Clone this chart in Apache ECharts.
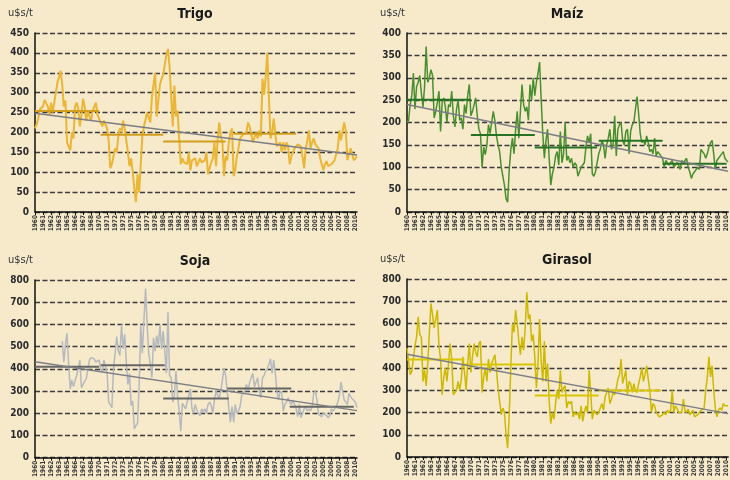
<!DOCTYPE html>
<html lang="es">
<head>
    <meta charset="UTF-8">
    <title>Precios de granos 1960-2010</title>
    <script src="https://cdn.jsdelivr.net/npm/echarts@6/dist/echarts.min.js"></script>
    <style>
        html, body { margin: 0; padding: 0; background: #f6eacb; }
        #chart { width: 730px; height: 480px; }
    </style>
</head>
<body>
<div id="chart"></div>
<script>
    // quarterly values, u$s/t, 1960 Q1 -> 2010 Q2
    const tickYears = [1960,1961,1962,1963,1965,1966,1967,1968,1970,1971,1972,1973,1975,1976,1977,1978,1980,1981,1982,1983,
        1985,1986,1987,1988,1990,1991,1992,1993,1995,1996,1997,1998,2000,2001,2002,2003,2005,2006,2007,2008,2010];

    const trigo = [210,220,235,258,262,265,282,282,265,245,
        275,250,275,270,325,325,355,320,265,280,
        175,165,155,200,185,265,275,260,215,245,
        285,265,230,255,240,230,255,260,275,245,
        235,225,215,230,225,210,180,110,120,140,
        160,150,190,210,200,230,210,180,150,115,
        135,100,60,25,95,50,55,190,215,220,
        250,245,225,290,320,350,240,280,320,335,
        345,370,395,410,365,360,215,318,240,255,
        185,120,135,125,130,120,150,105,130,125,
        135,115,120,135,125,120,130,150,95,100,
        125,135,175,115,180,225,190,175,90,140,
        130,175,200,210,90,105,140,160,185,185,
        195,190,200,225,215,195,175,180,200,185,
        205,190,335,295,340,400,290,185,200,235,
        195,165,165,175,150,175,155,175,165,120,
        140,150,160,165,170,175,165,165,110,160,
        180,205,160,175,185,170,175,160,135,120,
        105,120,128,115,115,120,120,130,125,160,
        205,180,185,225,205,130,130,160,160,130,
        135,140];

    const maiz = [200,205,240,260,310,230,280,290,305,265,
        235,280,370,290,300,318,305,210,225,245,
        270,180,245,255,235,200,240,235,270,215,
        190,230,250,205,210,185,240,220,260,285,
        215,225,240,255,215,185,175,100,145,128,
        150,195,175,200,225,205,170,150,135,100,
        80,60,30,22,95,140,165,130,185,225,
        165,225,285,240,225,235,205,285,250,300,
        260,290,310,335,250,175,120,160,185,120,
        60,85,100,125,135,105,180,110,130,200,
        115,125,110,120,100,110,105,80,90,100,
        100,110,145,170,155,175,85,80,90,110,
        130,140,160,150,120,150,165,185,140,150,
        215,125,185,195,200,160,150,180,185,130,
        180,195,200,230,258,220,175,155,160,150,
        170,155,135,140,130,165,125,135,130,125,
        120,100,115,110,105,110,115,100,105,110,
        105,95,115,110,115,120,100,90,75,85,
        90,95,100,95,140,135,130,120,130,145,
        155,160,130,95,115,120,125,130,135,120,
        115,112];

    const soja = [null,null,null,null,null,null,null,null,null,null,
        null,null,null,null,null,null,null,525,430,510,
        560,420,310,350,320,345,370,400,440,315,
        330,345,355,360,440,450,450,445,430,430,
        440,400,385,440,410,380,250,250,225,400,
        470,545,480,460,600,490,555,430,330,380,
        235,255,130,145,155,320,600,470,620,760,
        600,470,420,360,540,480,550,500,600,490,
        570,480,380,655,370,360,250,280,390,280,
        210,120,245,240,220,250,280,310,220,200,
        240,215,200,190,220,205,220,200,240,250,
        235,200,260,300,280,270,300,350,400,370,
        300,220,160,230,160,240,200,210,230,280,
        290,300,330,300,340,360,380,320,340,360,
        300,270,360,370,390,400,420,445,380,440,
        380,300,260,300,290,210,240,250,270,250,
        240,260,240,220,185,240,180,180,220,230,
        210,220,210,230,290,300,260,195,190,185,
        200,205,190,180,190,220,210,220,230,250,
        280,340,300,260,250,240,290,275,265,260,
        250,225];

    const girasol = [490,430,370,385,380,500,540,630,550,540,
        340,390,320,420,560,690,640,580,620,660,
        500,440,280,360,400,340,420,510,440,280,
        290,300,340,300,350,450,380,300,420,510,
        380,450,510,470,450,510,520,290,360,400,
        340,440,380,420,440,460,390,310,250,190,
        220,200,100,40,190,410,600,560,660,600,
        520,460,540,480,580,740,620,640,520,550,
        450,310,420,620,430,340,520,340,420,250,
        150,200,170,240,300,260,390,290,310,320,
        220,250,240,250,180,200,190,200,170,230,
        160,200,230,200,390,290,170,210,200,190,
        200,220,240,210,270,290,310,240,260,290,
        280,310,350,370,440,330,360,390,280,340,
        330,290,330,300,290,330,360,400,340,370,
        410,350,300,200,240,230,200,190,180,180,
        190,200,190,210,200,210,300,200,230,220,
        200,200,200,260,210,200,215,190,200,210,
        180,175,190,200,210,210,220,300,360,450,
        360,410,300,220,180,210,220,210,240,230,
        225,230];

    // decade averages: value, first quarter, last quarter
    const trigoAvg = [254, 194, 177, 197];
    const trigoAvgFrom = [0, 41, 80, 124];
    const trigoAvgTo = [40, 80, 119, 163];
    const maizAvg = [251, 172, 144, 159, 108];
    const maizAvgFrom = [0, 40, 80, 120, 160];
    const maizAvgTo = [40, 80, 119, 160, 200];
    const sojaAvg = [410, 416, 267, 312, 230];
    const sojaAvgFrom = [0, 41, 80, 120, 159];
    const sojaAvgTo = [40, 81, 121, 160, 199];
    const girasolAvg = [438, 416, 276, 299];
    const girasolAvgFrom = [0, 36, 80, 120];
    const girasolAvgTo = [36, 81, 120, 159];

    // linear trend, start and end value
    const trigoTrend = [248, 143];
    const maizTrend = [240, 91];
    const sojaTrend = [432, 212];
    const girasolTrend = [462, 195];

    const yMax = [450, 400, 800, 800];
    const yStep = [50, 50, 100, 100];

    const nPts = trigo.length;
    const categories = [];
    for (let i = 0; i < nPts; i++) {
        categories.push(i % 5 === 0 && tickYears[i / 5] ? String(tickYears[i / 5]) : '');
    }

    const font = "'Liberation Sans Narrow', 'DejaVu Sans Condensed', sans-serif";
    const panels = [
        { title: 'Trigo', data: trigo, avg: trigoAvg, from: trigoAvgFrom, to: trigoAvgTo, trend: trigoTrend,
          color: '#ebb535', avgColor: '#d29e1c', width: 2 },
        { title: 'Maíz', data: maiz, avg: maizAvg, from: maizAvgFrom, to: maizAvgTo, trend: maizTrend,
          color: '#4a8f2f', avgColor: '#277325', width: 1.5 },
        { title: 'Soja', data: soja, avg: sojaAvg, from: sojaAvgFrom, to: sojaAvgTo, trend: sojaTrend,
          color: '#b5b9bd', avgColor: '#666666', width: 1.5 },
        { title: 'Girasol', data: girasol, avg: girasolAvg, from: girasolAvgFrom, to: girasolAvgTo, trend: girasolTrend,
          color: '#cdb900', avgColor: '#d9c500', width: 1.5 }
    ];

    const grids = [
        { left: 35, top: 33, width: 322, height: 179 },
        { left: 407, top: 33, width: 322, height: 179 },
        { left: 35, top: 280, width: 322, height: 178 },
        { left: 407, top: 279, width: 322, height: 178 }
    ];

    const everyFifth = (idx) => idx % 5 === 0;
    const xAxes = [], yAxes = [], series = [], graphics = [];

    panels.forEach((p, k) => {
        const g = grids[k];
        xAxes.push({
            type: 'category', gridIndex: k, data: categories, boundaryGap: false,
            axisLine: { lineStyle: { color: '#111', width: 1.5 } },
            axisTick: { interval: everyFifth, length: 3, lineStyle: { color: '#111' } },
            axisLabel: { interval: everyFifth, rotate: 90, fontSize: 6.5, fontWeight: 'bold',
                         color: '#333', margin: 3, fontFamily: font },
            splitLine: { show: false }
        });
        yAxes.push({
            type: 'value', gridIndex: k, min: 0, max: yMax[k], interval: yStep[k],
            axisLine: { show: true, lineStyle: { color: '#111', width: 1.5 } },
            axisTick: { show: false },
            axisLabel: { fontSize: 10, fontWeight: 'bold', color: '#2a2a2a', margin: 6, fontFamily: font },
            splitLine: { show: true, lineStyle: { type: [5, 2.5], color: '#3b3b3b', width: 1.4 } }
        });
        series.push({
            type: 'line', xAxisIndex: k, yAxisIndex: k, data: p.data, symbol: 'none',
            connectNulls: false, lineStyle: { color: p.color, width: p.width }, z: 2
        });
        p.avg.forEach((v, j) => {
            series.push({
                type: 'line', xAxisIndex: k, yAxisIndex: k, symbol: 'none',
                data: [[p.from[j], v], [p.to[j], v]],
                lineStyle: { color: p.avgColor, width: 2 }, z: 3
            });
        });
        series.push({
            type: 'line', xAxisIndex: k, yAxisIndex: k, symbol: 'none',
            data: [[0, p.trend[0]], [nPts - 1, p.trend[1]]],
            lineStyle: { color: '#7d7d84', width: 1.5 }, z: 4
        });
        graphics.push({
            type: 'text', x: g.left + 160, y: g.top - 19,
            style: { text: p.title, fontSize: 14, fontWeight: 'bold', fontFamily: font,
                     fill: '#1a1a1a', textAlign: 'center', textVerticalAlign: 'middle' }
        });
        graphics.push({
            type: 'text', x: g.left - 27, y: g.top - 20,
            style: { text: 'u$s/t', fontSize: 11, fontFamily: font,
                     fill: '#333', textAlign: 'left', textVerticalAlign: 'middle' }
        });
    });

    const chart = echarts.init(document.getElementById('chart'));
    chart.setOption({
        animation: false,
        backgroundColor: '#f6eacb',
        grid: grids,
        xAxis: xAxes,
        yAxis: yAxes,
        series: series,
        graphic: graphics
    });
</script>
</body>
</html>
